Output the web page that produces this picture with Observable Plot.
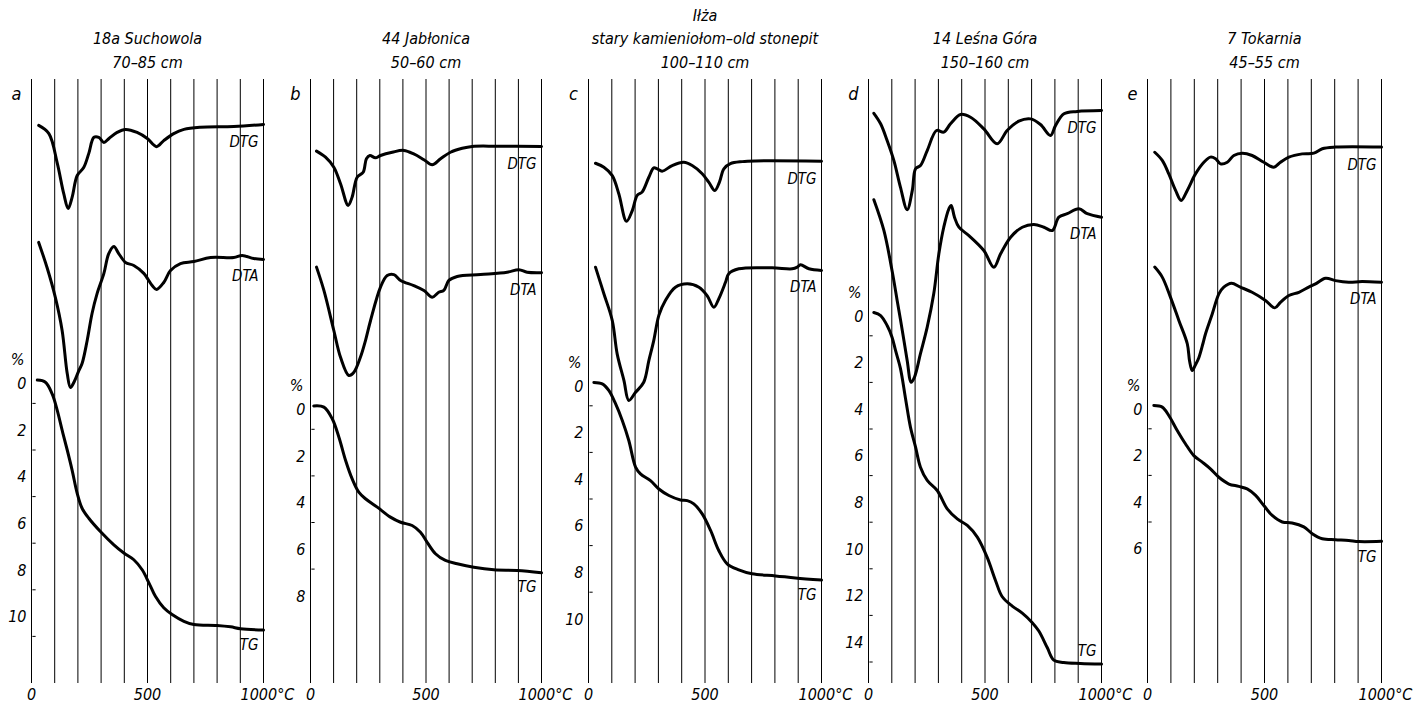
<!DOCTYPE html>
<html>
<head>
<meta charset="utf-8">
<script src="https://cdn.jsdelivr.net/npm/d3@7"></script>
<script src="https://cdn.jsdelivr.net/npm/@observablehq/plot@0.6"></script>
<style>
html, body { margin: 0; padding: 0; background: #fff; }
#chart { position: relative; width: 1414px; height: 710px; overflow: hidden; background: #fff; }
#chart svg { position: absolute; left: 0; top: 0; }
</style>
</head>
<body>
<div id="chart"></div>
<script>
// ---------- data ----------
const temperatureGrid = [0, 100, 200, 300, 400, 500, 600, 700, 800, 900, 1000];
const xTickValues = [0, 500];
const xTickLabels = ["0", "500"];
const xEndValue = [1000];
const xEndLabel = ["1000°C"];

const panelLetters = ["a", "b", "c", "d", "e"];
const panelTitles = [
  "18a Suchowola\n70–85 cm",
  "44 Jabłonica\n50–60 cm",
  "Iłża\nstary kamieniołom–old stonepit\n100–110 cm",
  "14 Leśna Góra\n150–160 cm",
  "7 Tokarnia\n45–55 cm"
];

// TG axis ticks (%)
const tgTicksA = [0, 2, 4, 6, 8, 10];
const tgMinorA = [1, 3, 5, 7, 9, 11];
const tgTicksB = [0, 2, 4, 6, 8];
const tgMinorB = [1, 3, 5, 7];
const tgTicksC = [0, 2, 4, 6, 8, 10];
const tgMinorC = [1, 3, 5, 7, 9];
const tgTicksD = [0, 2, 4, 6, 8, 10, 12, 14];
const tgMinorD = [1, 3, 5, 7, 9, 11, 13, 15];
const tgTicksE = [0, 2, 4, 6];
const tgMinorE = [1, 3, 5];

// Curves: [temperature °C, value]; TG in % mass loss, DTG/DTA in the same vertical units (arbitrary signal)
const tgA = [[25,0],[60,0.09],[89,0.59],[111,1.3],[132,2.15],[154,3.0],[175,3.86],[197,4.86],[218,5.5],[247,5.93],[297,6.5],[355,7.07],[398,7.42],[441,7.71],[477,8.14],[506,8.7],[534,9.28],[570,9.77],[606,10.06],[657,10.35],[700,10.49],[800,10.53],[858,10.59],[901,10.67],[1000,10.73]];
const dtgA = [[31,-10.93],[75,-10.58],[111,-9.31],[139,-8.0],[158,-7.36],[175,-7.84],[197,-8.78],[225,-9.12],[247,-9.73],[269,-10.42],[290,-10.42],[312,-10.2],[334,-10.37],[369,-10.63],[405,-10.76],[455,-10.63],[499,-10.37],[539,-10.02],[570,-10.28],[613,-10.58],[657,-10.76],[728,-10.85],[872,-10.88],[1000,-10.97]];
const dtaA = [[31,-5.91],[67,-4.83],[103,-3.54],[132,-2.13],[154,-0.28],[168,0.32],[185,0.05],[204,-0.41],[218,-0.71],[240,-1.7],[261,-2.86],[283,-3.72],[312,-4.58],[333,-5.43],[355,-5.73],[376,-5.43],[405,-5.05],[441,-4.92],[484,-4.58],[520,-4.06],[539,-3.89],[570,-4.19],[599,-4.7],[642,-5.0],[700,-5.09],[772,-5.26],[872,-5.26],[908,-5.35],[958,-5.22],[1000,-5.18]];

const tgB = [[14,0],[58,0.05],[94,0.55],[123,1.34],[152,2.34],[180,3.12],[209,3.7],[238,3.98],[289,4.34],[346,4.77],[390,4.99],[440,5.13],[476,5.42],[505,5.85],[541,6.34],[584,6.63],[635,6.77],[707,6.92],[794,7.03],[895,7.06],[1000,7.16]];
const dtgB = [[26,-10.94],[65,-10.68],[101,-10.25],[130,-9.54],[163,-8.61],[180,-8.96],[202,-9.82],[228,-10.03],[242,-10.61],[257,-10.75],[281,-10.65],[303,-10.75],[354,-10.89],[404,-10.97],[447,-10.82],[491,-10.57],[527,-10.35],[563,-10.61],[606,-10.89],[657,-11.06],[700,-11.14],[808,-11.15],[1000,-11.14]];
const dtaB = [[26,-5.96],[58,-4.96],[101,-3.24],[130,-2.09],[166,-1.31],[188,-1.45],[216,-2.09],[238,-2.81],[260,-3.67],[303,-5.1],[332,-5.6],[361,-5.64],[390,-5.39],[447,-5.17],[491,-4.96],[527,-4.67],[555,-4.88],[577,-4.96],[599,-5.39],[635,-5.56],[736,-5.64],[851,-5.74],[902,-5.85],[938,-5.74],[1000,-5.72]];

const tgC = [[23,0],[59,0.06],[87,0.34],[116,0.91],[145,1.63],[173,2.49],[202,3.63],[223,3.92],[266,4.21],[302,4.57],[345,4.85],[395,5.04],[424,5.07],[452,5.21],[488,5.64],[524,6.35],[559,7.21],[595,7.78],[645,8.04],[702,8.21],[803,8.3],[888,8.39],[1000,8.48]];
const dtgC = [[30,-9.41],[66,-9.24],[102,-8.88],[130,-8.1],[163,-6.92],[188,-7.38],[209,-8.03],[230,-8.17],[259,-8.81],[280,-9.21],[295,-9.17],[316,-9.07],[359,-9.31],[409,-9.45],[445,-9.31],[488,-8.96],[516,-8.6],[542,-8.24],[562,-8.6],[581,-9.17],[609,-9.39],[660,-9.48],[717,-9.51],[1000,-9.5]];
const dtaC = [[30,-4.95],[66,-3.81],[102,-2.66],[123,-1.23],[152,-0.09],[173,0.77],[202,0.42],[237,-0.01],[259,-0.94],[280,-1.8],[302,-2.88],[330,-3.52],[373,-4.09],[424,-4.24],[474,-4.09],[509,-3.73],[538,-3.23],[559,-3.59],[588,-4.3],[602,-4.67],[645,-4.88],[788,-4.92],[874,-4.88],[896,-4.95],[910,-5.05],[946,-4.88],[1000,-4.81]];

const tgD = [[23,0],[52,0.13],[80,0.56],[101,1.06],[116,1.63],[137,2.4],[159,3.7],[180,4.92],[202,5.78],[223,6.64],[252,7.21],[295,7.64],[338,8.43],[381,8.86],[424,9.14],[467,9.64],[509,10.5],[545,11.5],[574,12.2],[617,12.6],[660,12.9],[702,13.3],[731,13.67],[767,14.38],[795,14.92],[838,15.02],[910,15.06],[1000,15.09]];
const dtgD = [[23,-8.55],[52,-8.1],[80,-7.38],[109,-6.52],[137,-5.38],[166,-4.41],[188,-5.24],[202,-6.17],[223,-6.31],[252,-6.95],[292,-7.81],[323,-7.74],[352,-8.1],[395,-8.5],[438,-8.38],[495,-7.88],[552,-7.24],[595,-7.81],[645,-8.21],[695,-8.31],[738,-8.07],[781,-7.6],[803,-8.03],[839,-8.53],[896,-8.63],[1000,-8.67]];
const dtaD = [[23,-4.84],[66,-3.52],[101,-1.8],[123,-0.52],[145,0.77],[166,2.06],[183,2.99],[197,2.78],[223,1.77],[252,0.63],[280,-0.8],[302,-2.52],[323,-3.66],[345,-4.45],[355,-4.59],[369,-4.09],[388,-3.66],[431,-3.3],[495,-2.66],[538,-1.94],[567,-2.52],[610,-3.23],[660,-3.66],[710,-3.78],[753,-3.66],[789,-3.52],[817,-4.09],[853,-4.24],[903,-4.45],[939,-4.24],[1000,-4.09]];

const tgE = [[27,0],[63,0.07],[91,0.43],[127,1.07],[162,1.64],[198,2.15],[234,2.43],[269,2.72],[305,3.08],[348,3.37],[390,3.47],[426,3.58],[462,3.86],[497,4.29],[533,4.72],[576,5.0],[618,5.04],[668,5.21],[704,5.5],[747,5.72],[803,5.76],[860,5.79],[903,5.84],[1000,5.83]];
const dtgE = [[31,-10.87],[63,-10.52],[91,-9.94],[120,-9.23],[144,-8.8],[170,-9.23],[205,-9.94],[241,-10.44],[269,-10.66],[291,-10.59],[312,-10.37],[341,-10.44],[369,-10.73],[405,-10.83],[447,-10.73],[497,-10.44],[540,-10.23],[568,-10.44],[604,-10.66],[661,-10.8],[711,-10.83],[747,-11.02],[803,-11.09],[1000,-11.09]];
const dtaE = [[31,-5.94],[63,-5.51],[98,-4.65],[134,-3.65],[170,-2.65],[180,-1.9],[191,-1.5],[205,-1.75],[219,-2.04],[237,-2.66],[248,-3.08],[277,-3.94],[305,-4.79],[326,-5.08],[359,-5.25],[397,-5.08],[447,-4.86],[504,-4.51],[544,-4.19],[568,-4.43],[604,-4.72],[647,-4.86],[689,-5.08],[718,-5.22],[761,-5.46],[803,-5.36],[860,-5.29],[917,-5.32],[1000,-5.29]];

// ---------- layout (pixels) ----------
const FONT = "'DejaVu Sans Condensed', 'Liberation Sans Narrow', 'DejaVu Sans', sans-serif";
const PX_PER_PCT = 23.3;
const panels = [
  {x0: 31,   x1: 263,  zero: 379.6, tg: tgA, dtg: dtgA, dta: dtaA, ticks: tgTicksA, minor: tgMinorA, tgDy: 15},
  {x0: 310,  x1: 541,  zero: 405.5, tg: tgB, dtg: dtgB, dta: dtaB, ticks: tgTicksB, minor: tgMinorB, tgDy: 14},
  {x0: 588,  x1: 821,  zero: 382,   tg: tgC, dtg: dtgC, dta: dtaC, ticks: tgTicksC, minor: tgMinorC, tgDy: 15},
  {x0: 868,  x1: 1101, zero: 312,   tg: tgD, dtg: dtgD, dta: dtaD, ticks: tgTicksD, minor: tgMinorD, tgDy: -13},
  {x0: 1147, x1: 1381, zero: 405,   tg: tgE, dtg: dtgE, dta: dtaE, ticks: tgTicksE, minor: tgMinorE, tgDy: 16}
];

const chart = document.getElementById("chart");
const X = d => d[0], Y = d => d[1];

panels.forEach((p, i) => {
  const curve = (data) => Plot.line(data, {x: X, y: Y, stroke: "black", strokeWidth: 3, curve: "catmull-rom", strokeLinejoin: "round", strokeLinecap: "round"});
  const label = (data, txt, dy) => Plot.text(data, Plot.selectLast({x: X, y: Y, text: () => txt, textAnchor: "end", dx: -5, dy, fontSize: 15, fill: "black"}));
  const svg = Plot.plot({
    width: 1414,
    height: 710,
    marginTop: 79,
    marginBottom: 27,
    marginLeft: 0,
    marginRight: 0,
    x: {domain: [0, 1000], range: [p.x0, p.x1], axis: null},
    y: {domain: [0, 10], range: [p.zero, p.zero + 10 * PX_PER_PCT], axis: null},
    style: {background: "transparent", overflow: "visible", fontFamily: FONT, fontStyle: "italic", maxWidth: "none"},
    marks: [
      Plot.ruleX(temperatureGrid, {x: d => d, stroke: "black", strokeWidth: 1}),
      // panel title
      Plot.text([panelTitles[i]], {x: () => 500, frameAnchor: "top", text: d => d, lineAnchor: "bottom", dy: -12, fontSize: 16, lineHeight: 1.45, fill: "black"}),
      // panel letter
      Plot.text([panelLetters[i]], {x: () => 0, frameAnchor: "top", text: d => d, lineAnchor: "bottom", dx: -15, dy: 20, fontSize: 18, fill: "black"}),
      // x tick labels
      Plot.text(xTickValues, {x: d => d, frameAnchor: "bottom", text: (d, j) => xTickLabels[j], dy: 16, fontSize: 16, fill: "black"}),
      Plot.text(xEndValue, {x: d => d, frameAnchor: "bottom", text: (d, j) => xEndLabel[j], textAnchor: "start", dx: -23, dy: 16, fontSize: 16, fill: "black"}),
      // TG axis
      Plot.text(p.ticks, {x: () => 0, y: d => d, text: d => String(d), textAnchor: "end", dx: -5, dy: 4, fontSize: 16, fill: "black"}),
      Plot.ruleY(p.minor, {y: d => d, x1: () => 6, x2: () => 20, stroke: "black", strokeWidth: 1}),
      Plot.text(["%"], {x: () => 0, y: () => 0, text: d => d, dx: -14, dy: -20, fontSize: 16, fill: "black"}),
      // curves
      curve(p.dtg), curve(p.dta), curve(p.tg),
      label(p.dtg, "DTG", 18),
      label(p.dta, "DTA", 17),
      label(p.tg, "TG", p.tgDy)
    ]
  });
  chart.appendChild(svg);
});
</script>
</body>
</html>
